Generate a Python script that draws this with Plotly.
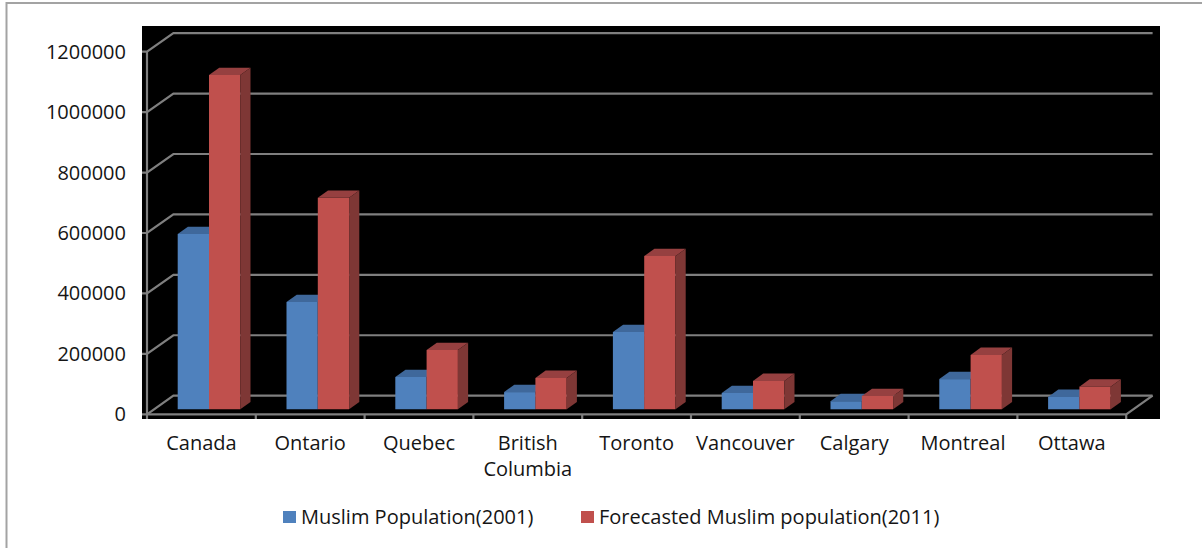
import plotly.graph_objects as go

categories = ["Canada", "Ontario", "Quebec", "British<br>Columbia", "Toronto",
              "Vancouver", "Calgary", "Montreal", "Ottawa"]
muslim_2001 = [580000, 355000, 107000, 57000, 256000, 54000, 27000, 100000, 41000]
forecast_2011 = [1106000, 700000, 196000, 104000, 507000, 94000, 44000, 180000, 75000]
series_names = ["Muslim Population(2001)", "Forecasted Muslim population(2011)"]
value_ticks = [0, 200000, 400000, 600000, 800000, 1000000, 1200000]

# Page geometry of the black plot area and of the axis box inside it
W, H = 1202, 548
PLOT_L, PLOT_R, PLOT_T, PLOT_B = 142, 1160, 26, 419
AXIS_X0, CAT_PX = 147.0, 108.8
ZERO_Y, PX_PER_TICK = 414.3, 60.43

# Data units per pixel, used to turn the oblique projection into axis offsets
UX = 1 / CAT_PX
UY = 200000 / PX_PER_TICK
n = len(categories)
x_range = [-0.5 + (PLOT_L - AXIS_X0) * UX, -0.5 + (PLOT_R - AXIS_X0) * UX]
y_range = [(ZERO_Y - PLOT_B) * UY, (ZERO_Y - PLOT_T) * UY]

# Depth vectors: floor/back wall, and a bar's own front-to-back depth
WALL_DX, WALL_DY = 26.4 * UX, 18.6 * UY
BAR_DX, BAR_DY = 10.2 * UX, 7.3 * UY
# A bar's front face sits part-way back on the floor
LIFT_DX, LIFT_DY = 7.6 * UX, 5.0 * UY
BAR_W = 31.3 * UX

LEFT, RIGHT = -0.5, n - 0.5
GRID = "#7f7f7f"
fig = go.Figure()


def add_line(xs, ys, clip=False):
    fig.add_trace(go.Scatter(x=xs, y=ys, mode="lines", showlegend=False, hoverinfo="skip",
                             line=dict(color=GRID, width=2.2, shape="linear"),
                             cliponaxis=clip, xaxis="x", yaxis="y"))


# Gridlines run from a stub on the front axis, back along the side wall, then across
for v in value_ticks:
    add_line([LEFT - 7 * UX, LEFT, LEFT + WALL_DX, RIGHT + WALL_DX],
             [v, v, v + WALL_DY, v + WALL_DY])
add_line([LEFT, LEFT], [value_ticks[0], value_ticks[-1]])
add_line([LEFT, RIGHT, RIGHT + WALL_DX], [0, 0, WALL_DY])
for i in range(n + 1):
    add_line([LEFT + i, LEFT + i], [0, -6.7 * UY])


def add_series(values, front, top, side, left_edge, xa, ya, name):
    """One series: oblique top and side faces plus real bars for the front."""
    base = LIFT_DY
    fig.add_trace(go.Bar(x=list(range(n)), y=values, base=[base] * n, name=name,
                         width=BAR_W, offset=left_edge, showlegend=False,
                         marker=dict(color=front, line=dict(width=0)),
                         xaxis=xa, yaxis=ya))
    for i, v in enumerate(values):
        x0 = i + left_edge
        x1 = x0 + BAR_W
        y1 = base + v
        fig.add_trace(go.Scatter(
            x=[x0, x1, x1 + BAR_DX, x0 + BAR_DX, x0],
            y=[y1, y1, y1 + BAR_DY, y1 + BAR_DY, y1],
            fill="toself", fillcolor=top, mode="none", showlegend=False,
            hoverinfo="skip", xaxis=xa, yaxis=ya))
        fig.add_trace(go.Scatter(
            x=[x1, x1 + BAR_DX, x1 + BAR_DX, x1, x1],
            y=[y1, y1 + BAR_DY, base + BAR_DY, base, y1],
            fill="toself", fillcolor=side, mode="none", showlegend=False,
            hoverinfo="skip", xaxis=xa, yaxis=ya))


# Each series has its own overlaid axes so the red bars stack above the blue faces
add_series(muslim_2001, "#4F81BD", "#3F689B", "#335580", LIFT_DX - BAR_W, "x2", "y2", series_names[0])
add_series(forecast_2011, "#C0504D", "#964040", "#7E3735", LIFT_DX, "x3", "y3", series_names[1])


def px(x):
    return (x - PLOT_L) / (PLOT_R - PLOT_L)


def py(y):
    return (PLOT_B - y) / (PLOT_B - PLOT_T)


FONT = dict(family="Open Sans, Noto Sans, sans-serif", size=20, color="#151515")

# Outer chart frame, plus the hand-placed legend keys and labels
shapes = [dict(type="path", xref="paper", yref="paper",
               path=f"M {px(6.5)} {py(548)} L {px(6.5)} {py(3)} L {px(1202)} {py(3)}",
               line=dict(color="#a3a3a3", width=2))]
annotations = []
for name, color, key_x in zip(series_names, ["#4F81BD", "#C0504D"], [283, 581]):
    shapes.append(dict(type="rect", xref="paper", yref="paper", x0=px(key_x), x1=px(key_x + 13),
                       y0=py(523), y1=py(511), fillcolor=color, line=dict(width=0)))
    annotations.append(dict(xref="paper", yref="paper", x=px(key_x + 18), y=py(516), text=name,
                            showarrow=False, xanchor="left", yanchor="middle",
                            font=FONT, borderpad=0, borderwidth=0))

hidden = dict(visible=False, fixedrange=True)
fig.update_layout(
    width=W, height=H, autosize=False,
    margin=dict(l=PLOT_L, r=W - PLOT_R, t=PLOT_T, b=H - PLOT_B, pad=0),
    paper_bgcolor="white", plot_bgcolor="black",
    barmode="overlay", showlegend=False, font=FONT,
    shapes=shapes, annotations=annotations,
    xaxis=dict(range=x_range, tickmode="array", tickvals=list(range(n)), ticktext=categories,
               ticks="", showgrid=False, zeroline=False, showline=False,
               ticklabelstandoff=10, tickfont=FONT),
    yaxis=dict(range=y_range, tickmode="array", tickvals=value_ticks,
               ticktext=[str(v) for v in value_ticks],
               ticks="", showgrid=False, zeroline=False, showline=False,
               ticklabelstandoff=15, tickfont=FONT),
    xaxis2=dict(range=x_range, overlaying="x", **hidden),
    yaxis2=dict(range=y_range, overlaying="y", **hidden),
    xaxis3=dict(range=x_range, overlaying="x", **hidden),
    yaxis3=dict(range=y_range, overlaying="y", **hidden),
)

fig.write_html("out.html", config=dict(displayModeBar=False))
